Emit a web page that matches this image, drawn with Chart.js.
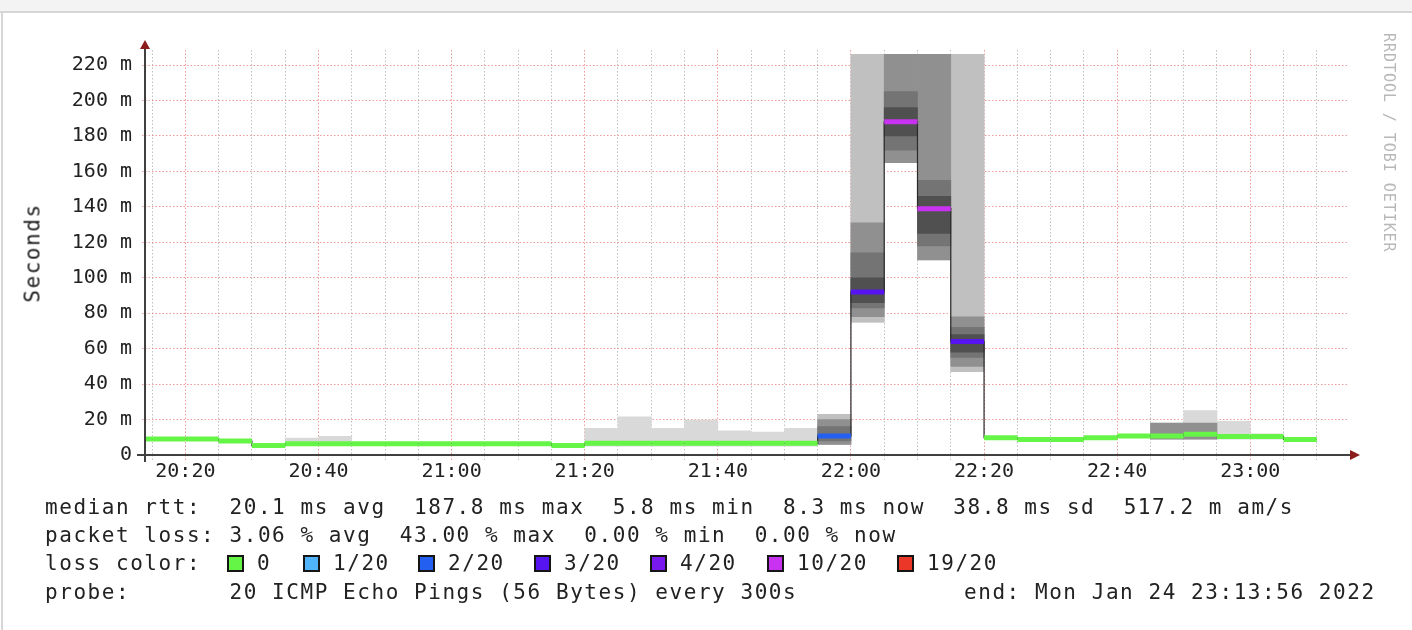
<!DOCTYPE html>
<html>
<head>
<meta charset="utf-8">
<script src="https://cdn.jsdelivr.net/npm/chart.js@4.4.1/dist/chart.umd.min.js"></script>
<style>
  html, body { margin: 0; padding: 0; background: #fff; }
  body { width: 1412px; height: 630px; position: relative; overflow: hidden;
         font-family: 'DejaVu Sans Mono', monospace; color: #222; }
  #topbar { position: absolute; left: 0; top: 0; width: 1412px; height: 11px;
            background: #f3f3f3; border-bottom: 2px solid #d6d6d6; }
  #leftline { position: absolute; left: 1px; top: 13px; width: 2px; height: 617px; background: #d6d6d6; }
  #chart { position: absolute; left: 0; top: 0; }
  .leg { position: absolute; font-size: 21px; letter-spacing: 1.55px; white-space: pre; line-height: 1; }
  .box { position: absolute; width: 13px; height: 13px; border: 2px solid #151515; }
  #ytitle { position: absolute; left: 33px; top: 253px; font-size: 21px; letter-spacing: 1.55px;
            white-space: pre; line-height: 1; transform: translate(-50%, -50%) rotate(-90deg); }
  #credit { position: absolute; left: 1381px; top: 33px; font-size: 15px; letter-spacing: 0.95px;
            line-height: 1; writing-mode: vertical-rl; color: #b8b8b8; white-space: pre; }
</style>
</head>
<body>
<div id="topbar"></div>
<div id="leftline"></div>
<canvas id="chart" width="1412" height="630"></canvas>
<div id="ytitle">Seconds</div>
<div id="credit">RRDTOOL / TOBI OETIKER</div>
<div class="leg" style="left:45px; top:497px;">median rtt:  20.1 ms avg  187.8 ms max  5.8 ms min  8.3 ms now  38.8 ms sd  517.2 m am/s</div>
<div class="leg" style="left:45px; top:525px;">packet loss: 3.06 % avg  43.00 % max  0.00 % min  0.00 % now</div>
<div class="leg" style="left:45px; top:553px;">loss color:</div>
<div id="lossrow"></div>
<div class="leg" style="left:45px; top:582px;">probe:       20 ICMP Echo Pings (56 Bytes) every 300s</div>
<div class="leg" style="left:964px; top:582px;">end: Mon Jan 24 23:13:56 2022</div>

<script>
// 5 minute bins (start time of each bin)
const binStarts = ['20:10', '20:15', '20:20', '20:25', '20:30', '20:35', '20:40', '20:45', '20:50', '20:55',
  '21:00', '21:05', '21:10', '21:15', '21:20', '21:25', '21:30', '21:35', '21:40', '21:45', '21:50', '21:55',
  '22:00', '22:05', '22:10', '22:15', '22:20', '22:25', '22:30', '22:35', '22:40', '22:45', '22:50', '22:55',
  '23:00', '23:05'];

// median rtt in ms
const medianMs = [9.0, 9.0, 9.0, 7.9, 5.4, 6.4, 6.4, 6.4, 6.4, 6.4,
  6.4, 6.4, 6.4, 5.4, 6.6, 6.6, 6.6, 6.6, 6.6, 6.6, 6.6, 10.7,
  92, 188, 139, 64, 9.8, 8.8, 8.8, 9.8, 10.7, 10.7, 11.7, 10.4,
  10.4, 8.8];

// packet loss in %
const lossPct = [0, 0, 0, 0, 0, 0, 0, 0, 0, 0,
  0, 0, 0, 0, 0, 0, 0, 0, 0, 0, 0, 10,
  15, 43, 27, 15, 0, 0, 0, 0, 0, 0, 0, 0,
  0, 0];

// smoke bands [low, high] in ms, from light (outer) to dark (core)
const N = null;
const smokeOuter = [N, N, N, N, N, [5.5, 9.5], [5.5, 10.5], N, N, N,
  N, N, N, N, [5, 15], [5, 21.5], [5, 15], [5, 19.7], [5, 13.7], [5, 13], [5, 15], [6, 23],
  [75, 226], [165, 226], [110, 226], [47, 226], N, N, N, N, N, [9, 18], [9, 25], [9, 19],
  [9, 12], N];
const smokeWide = [N, N, N, N, N, N, N, N, N, N,
  N, N, N, N, N, N, N, N, N, N, N, [6, 23],
  [75, 226], N, N, [47, 226], N, N, N, N, N, N, N, N,
  N, N];
const smokeMid = [N, N, N, N, N, N, N, N, N, N,
  N, N, N, N, N, N, N, N, N, N, N, [6, 20],
  [78, 131], [165, 226], [110, 226], [50, 78], N, N, N, N, N, [9, 18], [9, 18], N,
  N, N];
const smokeInner = [N, N, N, N, N, N, N, N, N, N,
  N, N, N, N, N, N, N, N, N, N, N, [8, 16],
  [83, 114], [172, 205], [118, 155], [55, 72], N, N, N, N, N, N, N, N,
  N, N];
const smokeCore = [N, N, N, N, N, N, N, N, N, N,
  N, N, N, N, N, N, N, N, N, N, N, N,
  [86, 100], [180, 196], [125, 146], [58, 68], N, N, N, N, N, N, N, N,
  N, N];

const xTickLabels = ['20:20', '20:40', '21:00', '21:20', '21:40', '22:00', '22:20', '22:40', '23:00'];
const yTickValues = [0, 20, 40, 60, 80, 100, 120, 140, 160, 180, 200, 220];
const yTickLabels = ['0', '20 m', '40 m', '60 m', '80 m', '100 m', '120 m', '140 m', '160 m', '180 m', '200 m', '220 m'];

const lossLimits = [0, 1, 2, 3, 4, 10, 19];
const lossLabels = ['0', '1/20', '2/20', '3/20', '4/20', '10/20', '19/20'];
const lossColors = ['#64f546', '#50b4fa', '#235ff0', '#5514f0', '#7819f0', '#c832f0', '#eb3728'];

const viewStart = '20:13:56';
const viewEnd = '23:14:41';
const yMax = 228.5;

function toMin(s) {
  const p = s.split(':').map(Number);
  return (p[0] - 20) * 60 + p[1] + (p[2] || 0) / 60;
}
function lossColor(pct) {
  const n = Math.round(pct * 20 / 100);
  let i = lossLimits.findIndex(l => n <= l);
  if (i < 0) i = lossLimits.length - 1;
  return lossColors[i];
}

// loss colour legend row
const boxX = [227, 303, 418, 534, 650, 767, 897];
const row = document.getElementById('lossrow');
lossLabels.forEach((lab, i) => {
  const b = document.createElement('div');
  b.className = 'box';
  b.style.left = boxX[i] + 'px';
  b.style.top = '555px';
  b.style.background = lossColors[i];
  row.appendChild(b);
  const t = document.createElement('div');
  t.className = 'leg';
  t.style.left = (boxX[i] + 30) + 'px';
  t.style.top = '553px';
  t.textContent = lab;
  row.appendChild(t);
});

const binStartMin = binStarts.map(toMin);
const xGrid = [];
for (let m = 15; m <= 190; m += 5) xGrid.push(m);
const yGrid = [];
for (let v = 0; v <= 220; v += 10) yGrid.push(v);
const xMajor = xTickLabels.map(toMin);

function smokeSet(ranges, color, order) {
  return {
    type: 'bar',
    order: order,
    grouped: false,
    backgroundColor: color,
    borderWidth: 0,
    barPercentage: 1,
    categoryPercentage: 1,
    clip: 0,
    data: ranges.map((r, i) => r ? { x: binStartMin[i] + 2.5, y: r } : null).filter(Boolean)
  };
}

// thick coloured median segments (start/end of each bin)
const medianSegs = [];
binStartMin.forEach((m, i) => {
  medianSegs.push({ x: m, y: medianMs[i] }, { x: m + 5, y: medianMs[i] });
});
// thin step line joining the medians
const medianStep = binStartMin.map((m, i) => ({ x: m, y: medianMs[i] }));
medianStep.push({ x: binStartMin[binStartMin.length - 1] + 5, y: medianMs[medianMs.length - 1] });

const axisDecor = {
  id: 'axisDecor',
  afterDraw(chart) {
    const { ctx, chartArea: a } = chart;
    ctx.save();
    ctx.strokeStyle = '#404040';
    ctx.lineWidth = 2;
    ctx.beginPath();
    ctx.moveTo(a.left - 8, a.bottom);
    ctx.lineTo(a.right + 4, a.bottom);
    ctx.stroke();
    ctx.beginPath();
    ctx.moveTo(a.left, a.bottom + 7);
    ctx.lineTo(a.left, a.top - 3);
    ctx.stroke();
    ctx.fillStyle = '#8b1c1c';
    ctx.beginPath();
    ctx.moveTo(a.right + 2, a.bottom - 5);
    ctx.lineTo(a.right + 12, a.bottom);
    ctx.lineTo(a.right + 2, a.bottom + 5);
    ctx.closePath();
    ctx.fill();
    ctx.beginPath();
    ctx.moveTo(a.left - 5, a.top - 1);
    ctx.lineTo(a.left, a.top - 10);
    ctx.lineTo(a.left + 5, a.top - 1);
    ctx.closePath();
    ctx.fill();
    ctx.restore();
  }
};

const gridDash = [1.5, 2];
const redGrid = 'rgba(232, 110, 110, 0.7)';
const grayGrid = 'rgba(165, 165, 165, 0.7)';

new Chart(document.getElementById('chart'), {
  type: 'bar',
  data: {
    datasets: [
      {
        type: 'line',
        order: 0,
        data: medianSegs,
        borderWidth: 5,
        borderCapStyle: 'butt',
        pointRadius: 0,
        clip: 0,
        segment: {
          borderColor: c => c.p0DataIndex % 2 === 0 ? lossColor(lossPct[c.p0DataIndex / 2]) : 'rgba(0,0,0,0)'
        }
      },
      {
        type: 'line',
        order: 1,
        data: medianStep,
        stepped: 'before',
        borderColor: '#2a2a2a',
        borderWidth: 1.2,
        pointRadius: 0,
        clip: 0
      },
      smokeSet(smokeCore, '#505050', 2),
      smokeSet(smokeInner, '#747474', 3),
      smokeSet(smokeMid, '#909090', 4),
      smokeSet(smokeWide, '#c0c0c0', 5),
      smokeSet(smokeOuter, '#d9d9d9', 6)
    ]
  },
  options: {
    responsive: false,
    animation: false,
    layout: { padding: { left: 0, top: 50, right: 64, bottom: 145 } },
    plugins: { legend: { display: false }, tooltip: { enabled: false } },
    scales: {
      x: {
        type: 'linear',
        min: toMin(viewStart),
        max: toMin(viewEnd),
        offset: false,
        z: 1,
        afterFit: s => { s.height = 30; },
        afterBuildTicks: s => { s.ticks = xGrid.map(v => ({ value: v })); },
        grid: {
          offset: false,
          color: c => (c.tick && xMajor.includes(c.tick.value)) ? redGrid : grayGrid,
          lineWidth: 1,
          tickLength: 5,
          tickBorderDash: gridDash
        },
        border: { display: false, dash: gridDash },
        ticks: {
          autoSkip: false,
          maxRotation: 0,
          padding: 0,
          color: '#222',
          font: { family: 'DejaVu Sans Mono', size: 20 },
          callback: v => {
            const i = xMajor.indexOf(v);
            return i >= 0 ? xTickLabels[i] : '';
          }
        }
      },
      y: {
        min: 0,
        max: yMax,
        z: 1,
        afterFit: s => { s.width = 145; },
        afterBuildTicks: s => { s.ticks = yGrid.map(v => ({ value: v })); },
        grid: {
          color: c => (c.tick && yTickValues.includes(c.tick.value)) ? redGrid : grayGrid,
          lineWidth: 1,
          tickLength: 3,
          tickBorderDash: gridDash
        },
        border: { display: false, dash: gridDash },
        ticks: {
          padding: 10,
          color: '#222',
          font: { family: 'DejaVu Sans Mono', size: 20 },
          callback: v => {
            const i = yTickValues.indexOf(v);
            return i >= 0 ? yTickLabels[i] : '';
          }
        }
      }
    }
  },
  plugins: [axisDecor]
});
</script>
</body>
</html>
